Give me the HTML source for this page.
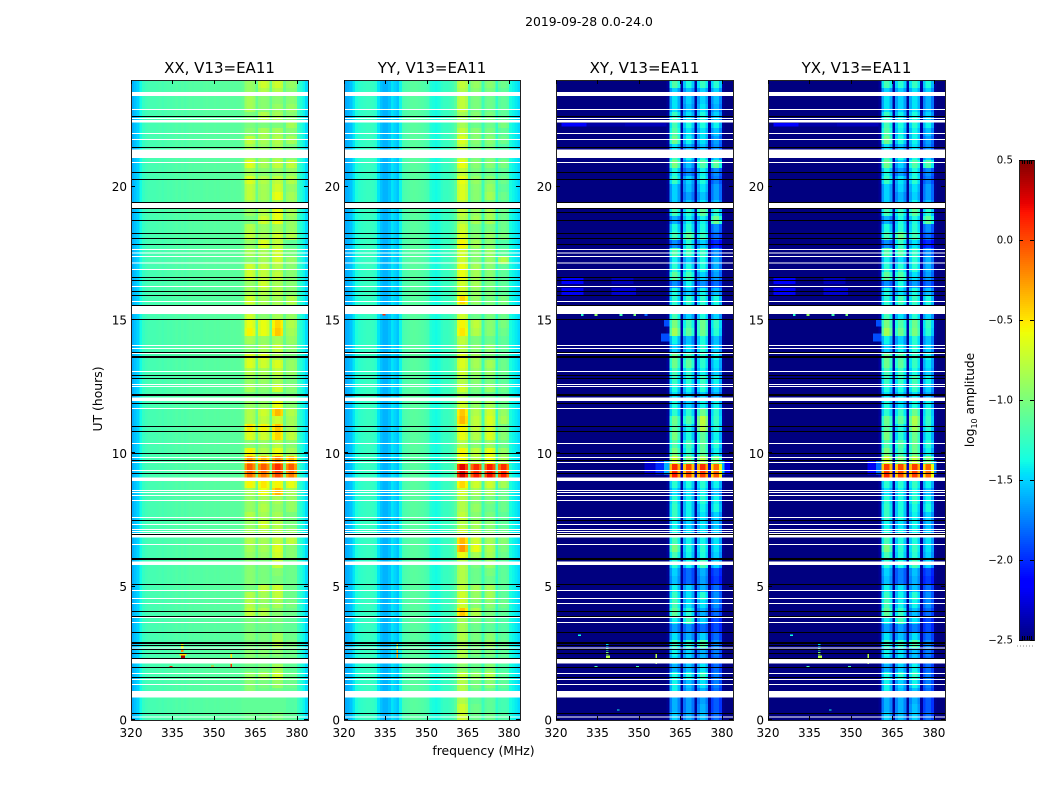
<!DOCTYPE html>
<html>
<head>
<meta charset="utf-8">
<title>2019-09-28 0.0-24.0</title>
<style>
html,body{margin:0;padding:0;background:#fff;width:1050px;height:800px;overflow:hidden}
svg{display:block}
text{font-family:"DejaVu Sans","Liberation Sans",sans-serif;fill:#000}
</style>
</head>
<body>
<svg id="chart" xmlns="http://www.w3.org/2000/svg" width="1050" height="800" viewBox="0 0 1050 800">
<rect x="0" y="0" width="1050" height="800" fill="#fff"/>
<text x="589" y="26" font-size="12.4" text-anchor="middle">2019-09-28 0.0-24.0</text>
<text x="483.5" y="755" font-size="12.4" text-anchor="middle">frequency (MHz)</text>
<text transform="translate(102,399) rotate(-90)" font-size="12.4" text-anchor="middle">UT (hours)</text>
<text transform="translate(974,400) rotate(-90)" font-size="12.2" text-anchor="middle">log<tspan font-size="8" dy="3">10</tspan><tspan dy="-3"> amplitude</tspan></text>
</svg>
<script>
// ---- axis data ----
const freqTicks = [320, 335, 350, 365, 380];
const utTicks = [0, 5, 10, 15, 20];
const colorbarTicks = [0.5, 0, -0.5, -1, -1.5, -2, -2.5];
const colorbarEdgeTicks = [0.17, 0.33, 0.5, 0.67, 0.83];
const panelTitles = ["XX, V13=EA11", "YY, V13=EA11", "XY, V13=EA11", "YX, V13=EA11"];

// ---- flagged intervals, UT hours, common to all panels ----
const flaggedGaps = [[23.40,23.55],[22.875,22.91],[22.54,22.575],[22.4,22.5],[21.975,22.01],[21.75,21.79],[21.075,21.4],[20.89,20.925],[19.19,19.4],[17.625,17.66],[17.49,17.53],[17.36,17.4],[17.12,17.16],[16.875,16.91],[16.24,16.275],[15.675,15.71],[15.225,15.54],[14.025,14.06],[13.91,13.95],[13.725,13.76],[13.05,13.09],[12.56,12.6],[12.49,12.525],[11.96,12.1],[11.66,11.7],[10.35,10.39],[9.825,9.86],[9.64,9.675],[9.34,9.375],[8.96,9.09],[8.59,8.625],[8.51,8.55],[8.4,8.44],[8.21,8.25],[7.575,7.61],[7.31,7.35],[7.125,7.16],[7.05,7.09],[6.99,7.02],[6.84,6.96],[6.56,6.6],[5.81,5.94],[4.84,4.875],[4.54,4.575],[4.35,4.39],[3.825,3.86],[3.64,3.675],[2.68,2.72],[2.11,2.28],[1.725,1.76],[1.5,1.54],[1.31,1.35],[0.84,1.09],[0.09,0.13]];
const scanBreaks = [22.63,21.47,20.53,20.27,19.41,19.18,19.03,18.73,18.24,18.06,17.83,16.59,16.48,16.07,15.92,15.54,15.02,13.78,13.64,13.61,12.92,12.81,12.22,12.17,11.87,11.0,10.82,9.99,9.73,9.24,7.48,6.97,6.05,6.02,5.08,4.07,3.88,3.28,2.9,2.87,2.78,2.64,2.49,2.31,1.97,1.59,0.24];

// ---- per-channel background level (log10 amp), channels 320..383 MHz ----
const xxSpectrum = [-1.6,-1.55,-1.5,-1.38,-1.26,-1.22,-1.2,-1.2,-1.2,-1.19,-1.18,-1.2,-1.18,-1.17,-1.18,-1.17,-1.15,-1.17,-1.15,-1.17,-1.15,-1.14,-1.15,-1.14,-1.14,-1.15,-1.14,-1.13,-1.14,-1.14,-1.13,-1.14,-1.13,-1.13,-1.12,-1.13,-1.12,-1.13,-1.12,-1.12,-1.1,-1.1,-1.1,-1.1,-1.1,-1.1,-1.1,-1.1,-1.1,-1.1,-1.1,-1.1,-1.1,-1.1,-1.1,-1.1,-1.1,-1.1,-1.1,-1.1,-1.25,-1.32,-1.4,-1.48];
const yySpectrum = [-1.62,-1.6,-1.55,-1.45,-1.35,-1.3,-1.28,-1.26,-1.25,-1.25,-1.26,-1.3,-1.45,-1.55,-1.6,-1.6,-1.55,-1.45,-1.5,-1.55,-1.4,-1.2,-1.17,-1.15,-1.13,-1.12,-1.13,-1.14,-1.15,-1.17,-1.2,-1.33,-1.36,-1.38,-1.35,-1.28,-1.25,-1.25,-1.23,-1.2,-1.15,-1.15,-1.15,-1.15,-1.15,-1.2,-1.2,-1.2,-1.2,-1.2,-1.25,-1.25,-1.25,-1.25,-1.25,-1.3,-1.3,-1.3,-1.3,-1.32,-1.38,-1.4,-1.43,-1.48];
const xySpectrum = [-2.5,-2.5,-2.5,-2.5,-2.5,-2.5,-2.5,-2.5,-2.5,-2.5,-2.5,-2.5,-2.5,-2.5,-2.5,-2.5,-2.5,-2.5,-2.5,-2.5,-2.5,-2.5,-2.5,-2.5,-2.5,-2.5,-2.5,-2.5,-2.5,-2.5,-2.5,-2.5,-2.5,-2.5,-2.5,-2.5,-2.5,-2.5,-2.5,-2.5,-2.5,-2.5,-2.5,-2.5,-2.5,-2.5,-2.5,-2.5,-2.5,-2.5,-2.5,-2.5,-2.5,-2.5,-2.5,-2.5,-2.5,-2.5,-2.5,-2.5,-2.5,-2.5,-2.5,-2.5];
const yxSpectrum = [-2.5,-2.5,-2.5,-2.5,-2.5,-2.5,-2.5,-2.5,-2.5,-2.5,-2.5,-2.5,-2.5,-2.5,-2.5,-2.5,-2.5,-2.5,-2.5,-2.5,-2.5,-2.5,-2.5,-2.5,-2.5,-2.5,-2.5,-2.5,-2.5,-2.5,-2.5,-2.5,-2.5,-2.5,-2.5,-2.5,-2.5,-2.5,-2.5,-2.5,-2.5,-2.5,-2.5,-2.5,-2.5,-2.5,-2.5,-2.5,-2.5,-2.5,-2.5,-2.5,-2.5,-2.5,-2.5,-2.5,-2.5,-2.5,-2.5,-2.5,-2.5,-2.5,-2.5,-2.5];

// ---- how strongly each channel follows its spectral window ----
const bandOfChannel = [360,361,362,363,364,365,366,367,368,369,370,371,372,373,374,375,376,377,378,379,380];
const bandIndex = [0,0,0,0,0,0,1,1,1,1,1,2,2,2,2,2,3,3,3,3,3];
const bandWeight = [0.05,0.82,1,1,0.84,0.08,0.84,1,1,0.84,0.08,0.84,1,1,0.86,0.08,0.84,1,1,0.8,0.05];

// ---- window levels (log10 amp): rows run from 24 h down to 0 h in 0.3 h steps; columns are the four windows ----
const xxLevels = [
[-.9,-.7,-.7,-.9],[-.9,-.8,-.8,-.95],[-.85,-.95,-.95,-.95],[-.85,-.95,-.9,-.9],[-1,-.8,-.85,-.95],[-1,-1,-1,-.85],[-.95,-.85,-.85,-.95],[-.75,-.85,-.8,-.85],[-.85,-.9,-.85,-1],[-.85,-.9,-.85,-.95],
[-.65,-.85,-.75,-.75],[-.85,-.95,-.9,-.9],[-.65,-.8,-.75,-.8],[-.75,-.85,-.7,-.9],[-.75,-.85,-.6,-.85],[-.85,-.9,-.85,-.9],[-.9,-.8,-.6,-.85],[-1,-.7,-.6,-.9],[-.8,-.9,-.85,-.9],[-.75,-.85,-.7,-.8],
[-.9,-.65,-.75,-1.1],[-.85,-.85,-.7,-1],[-.95,-.85,-.7,-.9],[-.7,-.75,-.8,-.95],[-.7,-.75,-.75,-.95],[-.9,-.7,-.85,-.95],[-.85,-.8,-.8,-.95],[-.7,-.85,-.85,-.8],[-.85,-.9,-.85,-.9],[-.7,-.95,-.85,-.9],
[-.6,-.6,-.45,-.8],[-.55,-.6,-.4,-.85],[-.85,-.9,-.85,-.9],[-.95,-.85,-.75,-.95],[-.65,-.65,-.85,-1],[-.65,-.7,-.65,-.9],[-.8,-.85,-.75,-.9],[-.9,-.9,-.85,-1],[-.85,-.95,-.7,-.95],[-1,-1,-1,-1],
[-.9,-.9,-.6,-.95],[-.8,-.7,-.35,-.8],[-.8,-.75,-.7,-.85],[-.5,-.55,-.4,-.85],[-.65,-.7,-.45,-.75],[-.95,-.9,-.8,-.95],[-.55,-.8,-.6,-.85],[-.25,-.35,-.2,-.35],[-.05,-.05,.1,-.05],[-.1,-.15,0,-.15],
[-.55,-.5,-.55,-.6],[-.85,-.6,-.35,-.85],[-.9,-.85,-.85,-.9],[-.9,-.8,-.9,-.9],[-.8,-.85,-.85,-1],[-.9,-.7,-.8,-1],[-.85,-.8,-.8,-.9],[-.8,-.85,-.75,-.75],[-.85,-.85,-.65,-.95],[-.9,-.9,-.7,-.95],
[-.95,-1,-.75,-1.05],[-.95,-1,-.95,-1.05],[-.95,-1,-1,-1.05],[-1,-.75,-.7,-1.05],[-.8,-.85,-.75,-1.05],[-.8,-.9,-.85,-1],[-.75,-.8,-.95,-1.05],[-1,-1,-1,-1.1],[-1,-1.05,-1.05,-1.1],[-.95,-1,-.85,-1.05],
[-1,-1,-.8,-1],[-.95,-.95,-.95,-1.05],[-.95,-1,-1,-1.05],[-1.05,-1,-.85,-1.1],[-.9,-.85,-.7,-1.05],[-.95,-1,-.9,-1.05],[-.95,-1.05,-1.05,-1.1],[-1.1,-1.1,-1.1,-1.15],[-1.1,-1.1,-1.1,-1.15],[-1.05,-1.05,-1,-1.1]];
const yyLevels = [
[-.75,-.9,-.95,-1.05],[-.8,-.95,-1,-1.1],[-.75,-1,-1.05,-1.1],[-.75,-1,-1.05,-1.1],[-.85,-.95,-1,-1.1],[-.85,-1.05,-1.05,-1],[-.75,-.95,-1,-1.1],[-.65,-.95,-.95,-1.05],[-.75,-1,-1,-1.15],[-.75,-1,-1,-1.1],
[-.6,-.95,-.95,-1],[-.75,-1,-1.05,-1.1],[-.6,-.9,-.95,-1.05],[-.65,-.95,-.9,-1.1],[-.65,-.95,-.85,-1.05],[-.75,-1,-1,-1.1],[-.75,-.9,-.85,-1.05],[-.8,-.85,-.85,-1.05],[-.7,-1,-1,-1.05],[-.65,-.95,-.9,-1],
[-.55,-.85,-.95,-1.15],[-.7,-.95,-.9,-1.1],[-.7,-.95,-.9,-.8],[-.6,-.85,-.95,-1.1],[-.6,-.85,-.95,-1.1],[-.7,-.85,-1,-1.1],[-.7,-.9,-1,-1.1],[-.45,-.9,-1,-1],[-.75,-1,-1,-1.05],[-.7,-1.05,-1,-1.05],
[-.55,-.75,-.95,-1],[-.5,-.8,-.95,-1.05],[-.75,-1,-1.05,-1.1],[-.8,-.95,-.95,-1.1],[-.65,-.85,-1,-1.1],[-.65,-.85,-.85,-1.05],[-.7,-.9,-.9,-1.05],[-.8,-.95,-1,-1.1],[-.7,-1,-.9,-1.05],[-.85,-1.05,-1.05,-1.1],
[-.7,-.9,-.85,-1.05],[-.4,-.8,-.7,-.9],[-.35,-.75,-.65,-.85],[-.55,-.75,-.7,-1],[-.6,-.8,-.65,-.95],[-.8,-.95,-.9,-1.05],[-.55,-.75,-.6,-.9],[-.6,-.8,-.6,-.85],[.25,.1,.15,.1],[.3,.15,.2,.15],
[-.45,-.7,-.7,-.85],[-.7,-.85,-.85,-1.05],[-.8,-.95,-1,-1.05],[-.8,-.9,-1.05,-1.05],[-.75,-.95,-1,-1.1],[-.8,-.85,-.95,-1.1],[-.7,-.85,-.95,-1.05],[-.35,-.7,-.85,-.95],[-.25,-.6,-.8,-1],[-.6,-.85,-.85,-1.05],
[-.8,-1,-.9,-1.1],[-.8,-1.05,-1,-1.1],[-.8,-1.05,-1.05,-1.1],[-.75,-.85,-.85,-1.1],[-.7,-.9,-.85,-1.1],[-.7,-.95,-.95,-1.05],[-.4,-.8,-1,-1.1],[-.85,-1,-1.05,-1.15],[-.85,-1.05,-1.1,-1.15],[-.8,-1,-.95,-1.1],
[-.85,-1,-.9,-1.05],[-.8,-1,-1,-1.1],[-.8,-1.05,-1.05,-1.1],[-.95,-1.05,-.95,-1.15],[-.75,-.9,-.8,-1.1],[-.8,-1,-.95,-1.1],[-.8,-1.05,-1.05,-1.15],[-.8,-1.1,-1.1,-1.2],[-.7,-1.05,-1.1,-1.2],[-.7,-1.05,-1.05,-1.15]];
const xyLevels = [
[-1.15,-1.35,-1.25,-1.3],[-1.5,-1.55,-1.5,-1.5],[-1.45,-1.5,-1.5,-1.55],[-1.45,-1.55,-1.45,-1.6],[-1.25,-1.45,-1.35,-1.5],[-1.2,-1.35,-1.35,-1.4],[-1.15,-1.45,-1.45,-1.55],[-1.05,-1.4,-1.45,-1.65],[-1.45,-1.6,-1.55,-1.7],[-1.2,-1.4,-1.35,-1.5],
[-1,-1.55,-1.15,-1.1],[-1.35,-1.7,-1.4,-1.7],[-1.25,-1.5,-1.35,-1.75],[-1.5,-1.55,-1.45,-1.65],[-1.5,-1.65,-1.55,-1.65],[-1.5,-1.55,-1.45,-1.55],[-1.2,-1.3,-1.1,-1.3],[-1.6,-1.4,-1.4,-1.05],[-1.35,-1.3,-1.35,-1.7],[-1.2,-1.1,-1.25,-1.8],
[-1.7,-1.3,-1.5,-2],[-1.15,-1.2,-1.25,-1.7],[-1.4,-1.5,-1.35,-1.6],[-1.3,-1.35,-1.35,-1.6],[-1.1,-1.2,-1.5,-1.65],[-1.7,-1.4,-1.7,-1.8],[-1.35,-1.5,-1.4,-1.55],[-1.3,-1.25,-1.3,-1.35],[-1.3,-1.4,-1.3,-1.4],[-1.2,-1.5,-1.35,-1.5],
[-1,-1.2,-1.05,-1.25],[-.85,-1.1,-1.05,-1.3],[-1.4,-1.55,-1.35,-1.55],[-1.5,-1.45,-1.3,-1.5],[-1.05,-1.2,-1.3,-1.4],[-1.05,-1.1,-1.3,-1.45],[-1.2,-1.3,-1.4,-1.5],[-1.25,-1.3,-1.25,-1.4],[-1.35,-1.4,-1.3,-1.5],[-1.45,-1.5,-1.5,-1.6],
[-1.35,-1.5,-1.4,-1.4],[-1.3,-1.3,-1.05,-1.3],[-1.05,-1.15,-.75,-1.25],[-1.1,-1.35,-.8,-1.3],[-1,-1.35,-1.1,-1.4],[-1.15,-1.2,-1.1,-1.3],[-1,-1.25,-1.1,-1.4],[-.7,-1,-.8,-1],[.1,0,.1,-.1],[.15,0,.05,-.05],
[-1.3,-1.35,-1.3,-1.4],[-1.45,-1.45,-1.4,-1.55],[-1.3,-1.4,-1.3,-1.4],[-1.25,-1.4,-1.4,-1.35],[-1.25,-1.4,-1.45,-1.5],[-1.4,-1.5,-1.45,-1.55],[-1.35,-1.45,-1.45,-1.5],[-1.2,-1.4,-1.4,-1.45],[-1,-1.35,-1.3,-1.45],[-1.2,-1.4,-1.35,-1.5],
[-1.3,-1.4,-1.2,-1.5],[-1.5,-1.8,-1.6,-1.9],[-1.55,-1.8,-1.65,-1.95],[-1.4,-1.5,-1.6,-1.8],[-1.25,-1.45,-1.3,-1.7],[-1.2,-1.45,-1.45,-1.7],[-1.1,-1.3,-1.6,-1.8],[-1.4,-1.2,-1.5,-1.9],[-1.65,-1.7,-1.8,-1.9],[-1.45,-1.6,-1.5,-1.8],
[-1.25,-1.3,-1.15,-1.7],[-1.4,-1.5,-1.6,-1.75],[-1.45,-1.5,-1.6,-1.8],[-1.6,-1.55,-1.45,-1.8],[-1.35,-1.35,-1.25,-1.75],[-1.4,-1.55,-1.45,-1.75],[-1.4,-1.6,-1.6,-1.8],[-1.6,-1.65,-1.65,-1.85],[-1.6,-1.65,-1.6,-1.85],[-1.5,-1.6,-1.55,-1.8]];
const yxLevels = [
[-1.2,-1.3,-1.25,-1.35],[-1.5,-1.5,-1.45,-1.5],[-1.45,-1.5,-1.45,-1.6],[-1.45,-1.5,-1.45,-1.6],[-1.25,-1.4,-1.35,-1.5],[-1.2,-1.35,-1.3,-1.4],[-1.15,-1.4,-1.4,-1.55],[-1.05,-1.35,-1.4,-1.65],[-1.45,-1.55,-1.45,-1.7],[-1.2,-1.35,-1.35,-1.5],
[-1.05,-1.5,-1.15,-1.15],[-1.35,-1.65,-1.35,-1.7],[-1.25,-1.45,-1.3,-1.75],[-1.5,-1.5,-1.45,-1.65],[-1.5,-1.6,-1.5,-1.65],[-1.5,-1.55,-1.4,-1.55],[-1.2,-1.25,-1.1,-1.3],[-1.6,-1.35,-1.35,-1.1],[-1.35,-1.3,-1.3,-1.7],[-1.2,-1.05,-1.2,-1.8],
[-1.7,-1.25,-1.45,-2],[-1.15,-1.15,-1.25,-1.7],[-1.4,-1.45,-1.3,-1.6],[-1.3,-1.3,-1.3,-1.6],[-1.1,-1.15,-1.45,-1.65],[-1.7,-1.35,-1.65,-1.8],[-1.35,-1.45,-1.35,-1.55],[-1.3,-1.2,-1.25,-1.35],[-1.3,-1.35,-1.3,-1.4],[-1.2,-1.45,-1.3,-1.5],
[-1,-1.15,-1.05,-1.25],[-.85,-1.05,-1,-1.3],[-1.4,-1.5,-1.3,-1.55],[-1.5,-1.4,-1.3,-1.5],[-1.05,-1.15,-1.25,-1.4],[-1.05,-1.1,-1.25,-1.45],[-1.2,-1.25,-1.35,-1.5],[-1.25,-1.25,-1.2,-1.4],[-1.35,-1.35,-1.25,-1.5],[-1.45,-1.45,-1.45,-1.6],
[-1.35,-1.45,-1.35,-1.4],[-1.3,-1.25,-1.05,-1.3],[-1.05,-1.1,-.8,-1.25],[-1.1,-1.3,-.85,-1.3],[-1,-1.3,-1.05,-1.4],[-1.15,-1.15,-1.05,-1.3],[-1,-1.2,-1.05,-1.4],[-.7,-.95,-.75,-1],[.05,0,.05,-.1],[.1,0,.05,-.1],
[-1.3,-1.3,-1.25,-1.4],[-1.45,-1.4,-1.35,-1.55],[-1.3,-1.35,-1.25,-1.4],[-1.25,-1.35,-1.35,-1.35],[-1.25,-1.35,-1.4,-1.5],[-1.4,-1.45,-1.4,-1.55],[-1.35,-1.4,-1.4,-1.5],[-1.2,-1.35,-1.35,-1.45],[-1,-1.3,-1.25,-1.45],[-1.2,-1.35,-1.3,-1.5],
[-1.3,-1.35,-1.2,-1.5],[-1.5,-1.75,-1.55,-1.9],[-1.55,-1.75,-1.6,-1.95],[-1.4,-1.45,-1.55,-1.8],[-1.25,-1.4,-1.3,-1.7],[-1.2,-1.4,-1.4,-1.7],[-1.1,-1.25,-1.55,-1.8],[-1.4,-1.2,-1.45,-1.9],[-1.65,-1.65,-1.75,-1.9],[-1.45,-1.55,-1.45,-1.8],
[-1.25,-1.25,-1.15,-1.7],[-1.4,-1.45,-1.55,-1.75],[-1.45,-1.45,-1.55,-1.8],[-1.6,-1.5,-1.4,-1.8],[-1.35,-1.3,-1.25,-1.75],[-1.4,-1.5,-1.4,-1.75],[-1.4,-1.55,-1.55,-1.8],[-1.6,-1.6,-1.6,-1.85],[-1.6,-1.6,-1.55,-1.85],[-1.5,-1.55,-1.5,-1.8]];

// ---- localized features: [UT start, UT end, MHz start, MHz end, log10 amp] ----
const xxFeatures = [[2.3,2.42,338,339.5,.4],[2.42,2.5,337.5,340,-.5],[2.55,2.62,338,339,-.2],[2.62,2.85,338,339,-.6],[1.98,2.03,334,335,.1],[2,2.05,349,350,-.3],[1.98,2.1,356,356.6,.1],[2.1,2.5,356,356.6,-.5]];
const yyFeatures = [[2.3,2.6,339,339.6,-.3],[2.6,2.9,339,339.6,-.7],[15.17,15.22,334,335,.1]];
const xyFeatures = [[2.3,2.42,338,339.5,-.8],[2.45,2.55,338,339,-1],[2.6,2.7,338,339,-1.2],[2.75,2.9,338,339,-1.5],[1.98,2.03,334,335,-1.2],[1.98,2.03,349,350,-1.2],[2.1,2.5,356,356.6,-.8],[3.15,3.2,328,329,-1.4],[0.35,0.4,342,343,-1.4],[15.15,15.22,329,330,-1.3],[15.15,15.22,334,335,-.9],[15.15,15.22,343,344,-1.2],[15.15,15.22,348,349,-1],[15.15,15.22,352,353,-1.8],[22.25,22.38,322,331,-2.15],[22.25,22.38,331,345,-2.4],[22.25,22.38,345,360,-2.35],[16.35,16.6,322,330,-2.15],[16.35,16.6,340,348,-2.35],[15.9,16.2,322,330,-2.2],[15.9,16.2,340,349,-2.3],[9.2,9.75,352,356,-2.3],[9.2,9.75,356,359,-2],[9.2,9.75,359,361,-1.6],[9.2,9.75,380,381,-1.6],[9.2,9.75,381,383,-2.2],[14.2,14.5,358,361,-1.9],[14.75,15,359,361,-1.9]];
const yxFeatures = [[2.3,2.42,338,339.5,-.8],[2.45,2.55,338,339,-1],[2.6,2.7,338,339,-1.2],[2.75,2.9,338,339,-1.5],[1.98,2.03,334,335,-1.2],[1.98,2.03,349,350,-1.2],[2.1,2.5,356,356.6,-.8],[3.15,3.2,328,329,-1.4],[0.35,0.4,342,343,-1.4],[15.15,15.22,329,330,-1.3],[15.15,15.22,334,335,-.9],[15.15,15.22,343,344,-1.2],[15.15,15.22,348,349,-1],[22.25,22.38,322,331,-2.15],[22.25,22.38,331,345,-2.4],[22.25,22.38,345,360,-2.35],[16.35,16.6,322,330,-2.15],[16.35,16.6,340,348,-2.35],[15.9,16.2,322,330,-2.2],[15.9,16.2,340,349,-2.3],[9.2,9.75,356,359,-2.2],[9.2,9.75,359,361,-1.8],[9.2,9.75,380,381,-1.7],[14.2,14.5,358,361,-1.9],[14.75,15,359,361,-1.9]];

// ---- scales ----
const NS = "http://www.w3.org/2000/svg";
const svg = document.getElementById("chart");
const F_MIN = 320, F_MAX = 384, UT_MAX = 24, ROW_HOURS = 0.3;
const PLOT_TOP = 80, PLOT_BOTTOM = 720;
const panelLefts = [131, 344, 556, 768];
const panelWidths = [177, 176, 177, 177];
function xScale(p, f) { return panelLefts[p] + (f - F_MIN) / (F_MAX - F_MIN) * panelWidths[p]; }
function yScale(ut) { return PLOT_BOTTOM - ut / UT_MAX * (PLOT_BOTTOM - PLOT_TOP); }
function ramp(t, pts) {
  for (let i = 1; i < pts.length; i++) {
    if (t <= pts[i][0]) {
      const a = pts[i - 1], b = pts[i];
      return a[1] + (b[1] - a[1]) * (t - a[0]) / (b[0] - a[0]);
    }
  }
  return pts[pts.length - 1][1];
}
function jet(v) {
  const t = Math.max(0, Math.min(1, (v + 2.5) / 3));
  const r = ramp(t, [[0,0],[.35,0],[.66,1],[.89,1],[1,.5]]);
  const g = ramp(t, [[0,0],[.125,0],[.375,1],[.64,1],[.91,0],[1,0]]);
  const b = ramp(t, [[0,.5],[.11,1],[.34,1],[.65,0],[1,0]]);
  return "rgb(" + Math.round(r * 255) + "," + Math.round(g * 255) + "," + Math.round(b * 255) + ")";
}
function make(tag, parent, attrs) {
  const el = document.createElementNS(NS, tag);
  for (const k in attrs) el.setAttribute(k, attrs[k]);
  parent.appendChild(el);
  return el;
}
function rect(parent, x, y, w, h, fill) {
  return make("rect", parent, { x: x, y: y, width: w, height: h, fill: fill, "shape-rendering": "crispEdges" });
}
function line(parent, x1, y1, x2, y2, stroke) {
  return make("line", parent, { x1: x1, y1: y1, x2: x2, y2: y2, stroke: stroke, "stroke-width": 1, "shape-rendering": "crispEdges" });
}
function label(parent, x, y, txt, anchor, size) {
  const t = make("text", parent, { x: x, y: y, "text-anchor": anchor, "font-size": size });
  t.textContent = txt;
  return t;
}

// ---- panels ----
const panelKeys = ["xx", "yy", "xy", "yx"];
const panelSpectra = [xxSpectrum, yySpectrum, xySpectrum, yxSpectrum];
const panelLevels = [xxLevels, yyLevels, xyLevels, yxLevels];
const panelFeatures = [xxFeatures, yyFeatures, xyFeatures, yxFeatures];

panelKeys.forEach(function (key, p) {
  const left = panelLefts[p], width = panelWidths[p];
  const g = make("g", svg, {});
  
  
  const spectrum = panelSpectra[p], levels = panelLevels[p], feats = panelFeatures[p];
  const cells = make("g", g, {});
  
  
  levels.forEach(function (row, i) {
    const utHigh = UT_MAX - i * ROW_HOURS, utLow = utHigh - ROW_HOURS;
    const y0 = yScale(utHigh), h = yScale(utLow) - y0;
    spectrum.forEach(function (bg, c) {
      const f = F_MIN + c;
      const idx = bandOfChannel.indexOf(f);
      let v = bg;
      if (idx >= 0) v = bg + bandWeight[idx] * (row[bandIndex[idx]] - bg);
      const x0 = xScale(p, f);
      const cell = rect(cells, x0, y0, xScale(p, f + 1) - x0 + 0.4, h + 0.4, jet(v));
      
      
    });
  });
  feats.forEach(function (d) {
    const x0 = xScale(p, d[2]), y0 = yScale(d[1]);
    const mark = rect(g, x0, y0, Math.max(1, xScale(p, d[3]) - x0), Math.max(1, yScale(d[0]) - y0), jet(d[4]));
    
    
  });
  flaggedGaps.forEach(function (d) {
    const y0 = yScale(d[1]);
    const gap = rect(g, left, y0, width, Math.max(1, yScale(d[0]) - y0), "#fff");
    
    
  });
  scanBreaks.forEach(function (ut) {
    const y0 = Math.floor(yScale(ut));
    const br = rect(g, left, y0, width, 1, "#000");
    
    
  });
  const cover = rect(g, left, PLOT_BOTTOM, width + 2, 2, "#fff");
  
  
  const frame = make("rect", g, { x: left + 0.5, y: PLOT_TOP + 0.5, width: width, height: PLOT_BOTTOM - PLOT_TOP, fill: "none", stroke: "#222", "stroke-width": 1, "shape-rendering": "crispEdges" });
  
  
  freqTicks.forEach(function (f) {
    const x = Math.round(xScale(p, f)) + 0.5;
    const t1 = line(g, x, PLOT_BOTTOM, x, PLOT_BOTTOM - 4, "#000");
    
    
    const t2 = line(g, x, PLOT_TOP, x, PLOT_TOP + 4, "#000");
    
    
    const tl = label(g, xScale(p, f), 737, String(f), "middle", 12);
    
    
  });
  utTicks.forEach(function (ut) {
    const y = Math.round(yScale(ut)) - 0.5;
    const t1 = line(g, left, y, left + 4, y, "#000");
    
    
    const t2 = line(g, left + width, y, left + width - 4, y, "#000");
    
    
    const tl = label(g, left - 4, yScale(ut) + 4.5, String(ut), "end", 12);
    
    
  });
  const title = label(g, left + width / 2, 73, panelTitles[p], "middle", 15);
  
  
});

// ---- colorbar ----
const CB_LEFT = 1019, CB_W = 15, CB_TOP = 160, CB_BOTTOM = 640;
function cbScale(v) { return CB_BOTTOM - (v + 2.5) / 3 * (CB_BOTTOM - CB_TOP); }
const cb = make("g", svg, {});


for (let py = CB_TOP; py < CB_BOTTOM; py += 2) {
  const v = -2.5 + (CB_BOTTOM - py - 1) / (CB_BOTTOM - CB_TOP) * 3;
  const step = rect(cb, CB_LEFT, py, CB_W + 1, 2.4, jet(v));
  
  
}
const cbFrame = make("rect", cb, { x: CB_LEFT + 0.5, y: CB_TOP + 0.5, width: CB_W, height: CB_BOTTOM - CB_TOP, fill: "none", stroke: "#222", "stroke-width": 1, "shape-rendering": "crispEdges" });


colorbarEdgeTicks.forEach(function (frac) {
  const x = Math.round(CB_LEFT + frac * CB_W) + 0.5;
  const top = line(cb, x, CB_TOP, x, CB_TOP + 4, "#000");
  
  
  const bottom = line(cb, x, CB_BOTTOM, x, CB_BOTTOM - 4, "#000");
  
  
});
colorbarTicks.forEach(function (v) {
  const y = Math.round(cbScale(v)) + 0.5;
  const a = line(cb, CB_LEFT, y, CB_LEFT + 4, y, "#000");
  
  
  const b = line(cb, CB_LEFT + CB_W - 4, y, CB_LEFT + CB_W, y, "#000");
  
  
  const txt = (v.toFixed(1)).replace("-", "\u2212");
  const tl = label(cb, CB_LEFT - 6, cbScale(v) + 3.5, txt, "end", 10.2);
  
  
});
const dots = make("line", cb, { x1: 1017, y1: 646, x2: 1035, y2: 646, stroke: "#888", "stroke-width": 1, "stroke-dasharray": "1 2" });


</script>
</body>
</html>
